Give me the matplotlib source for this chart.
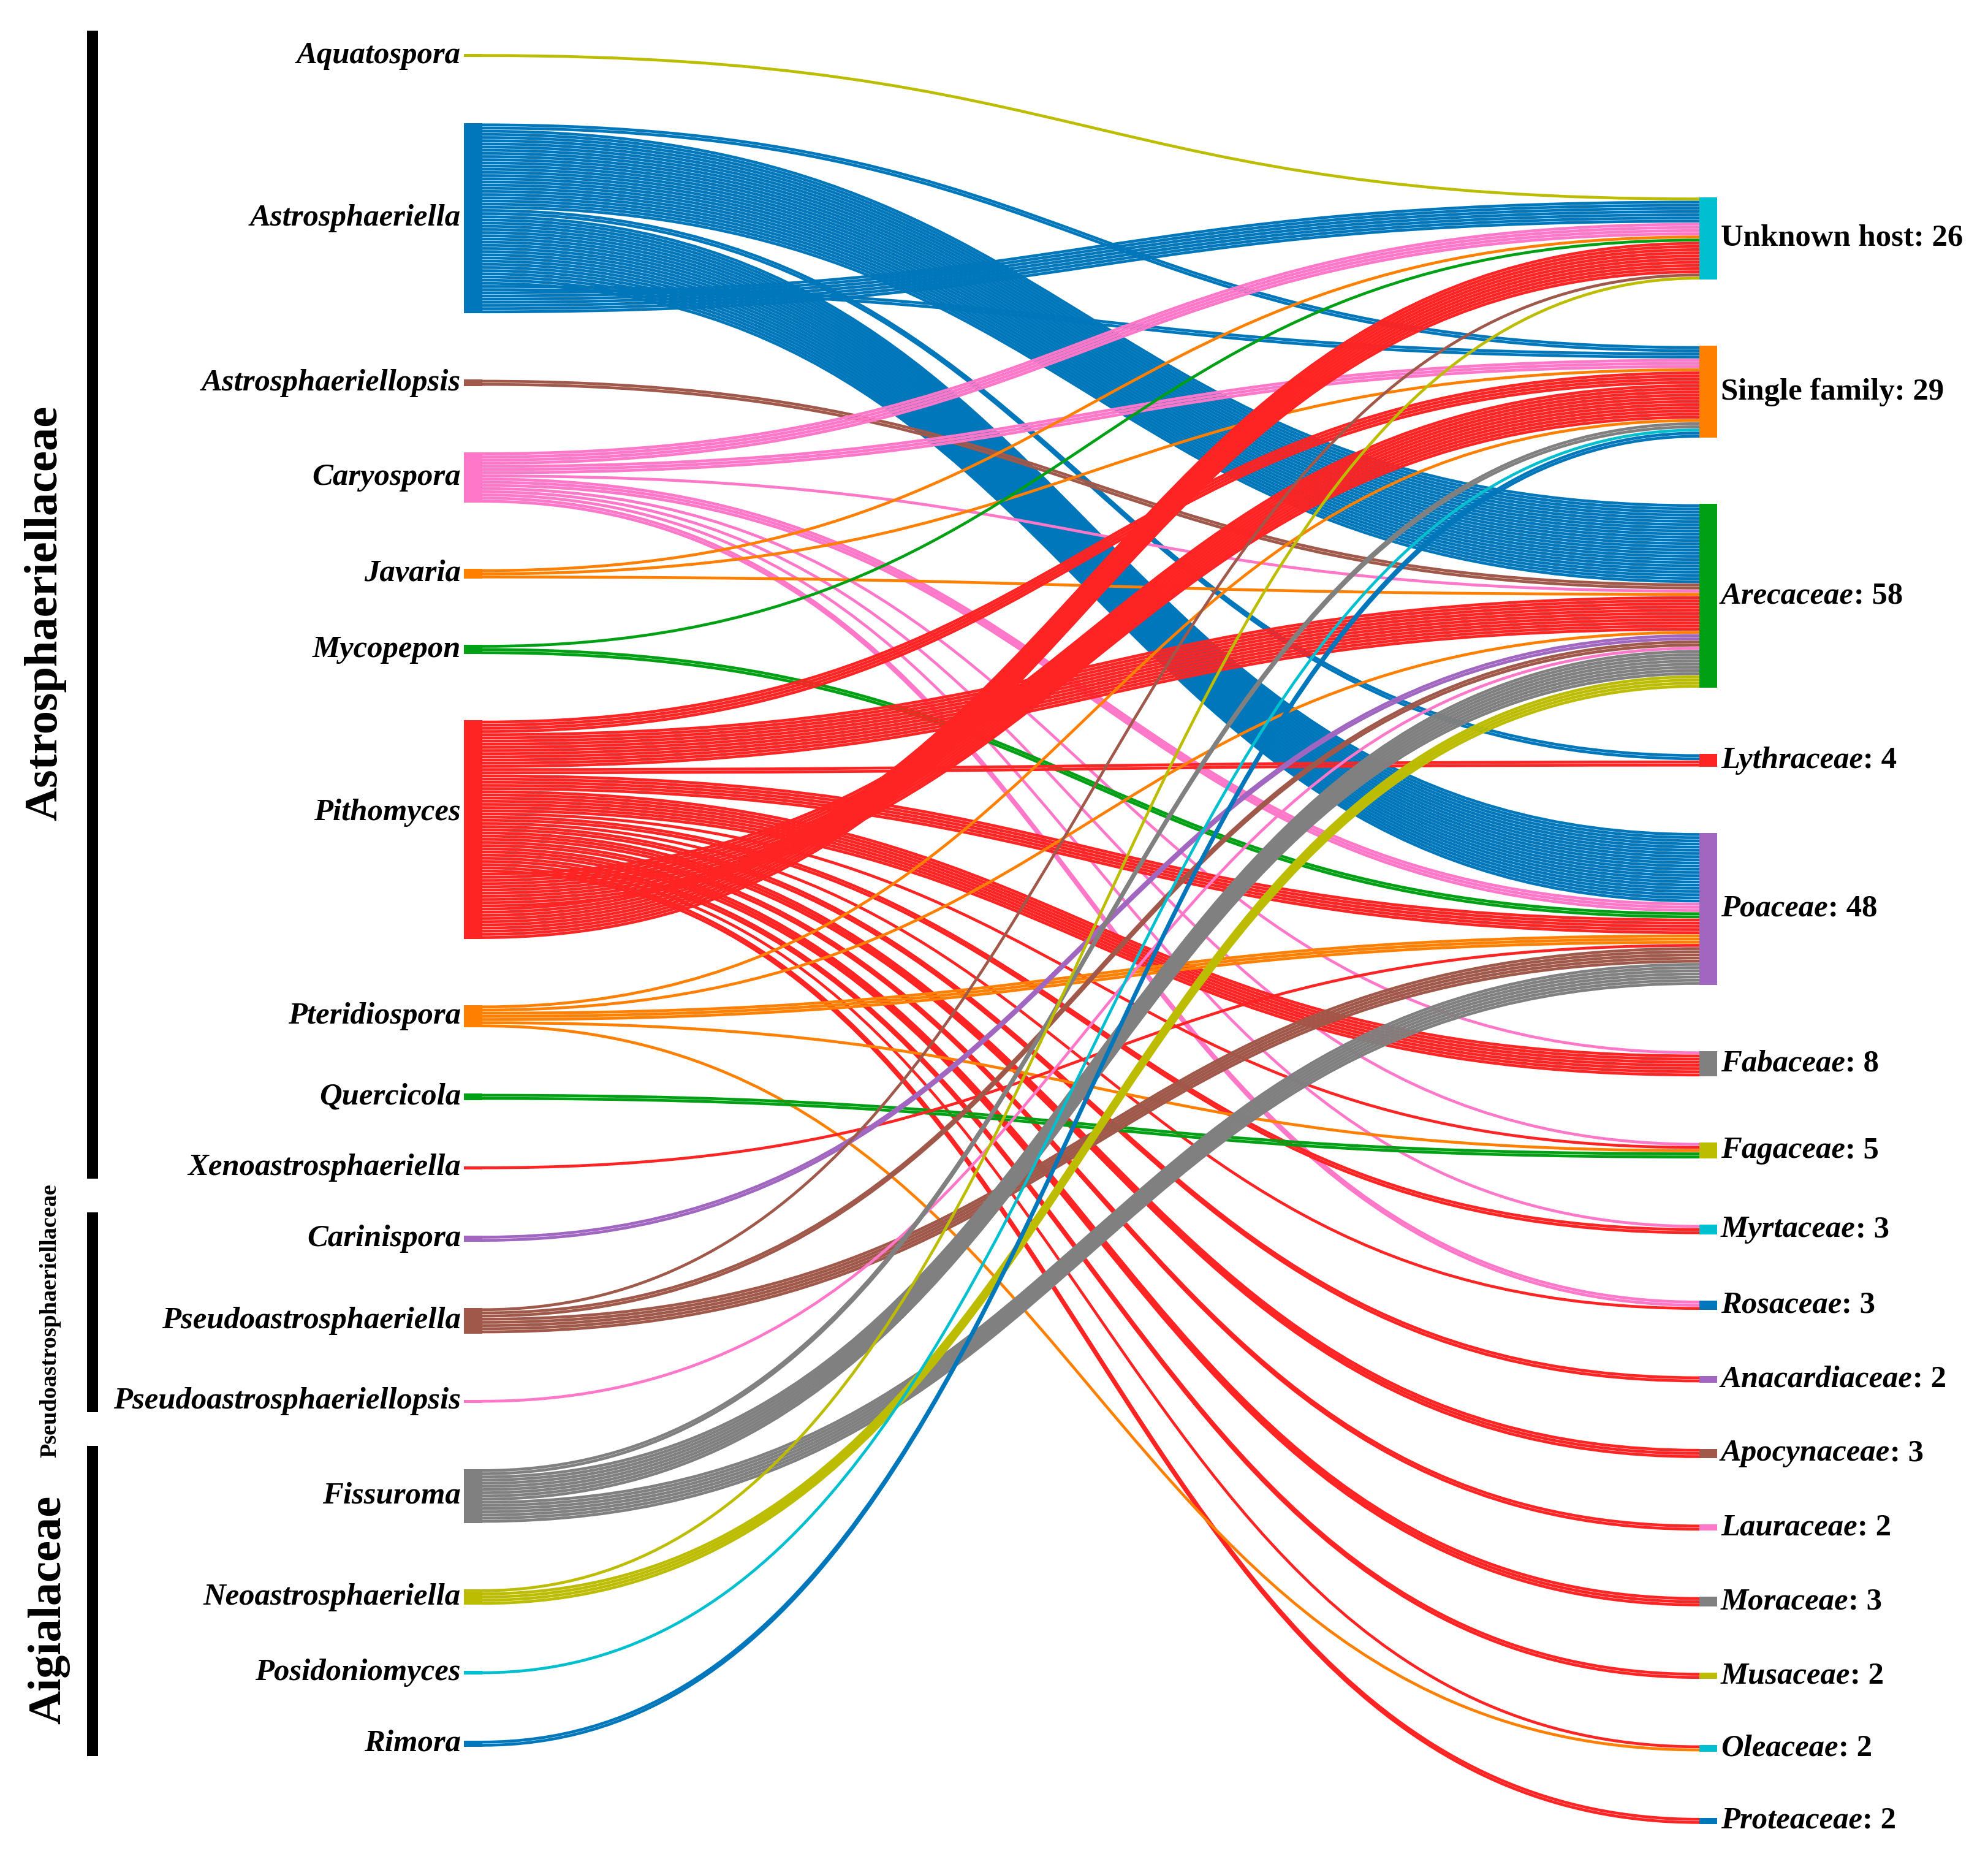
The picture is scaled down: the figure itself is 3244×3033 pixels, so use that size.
import numpy as np
import matplotlib
matplotlib.use('Agg')
import matplotlib.pyplot as plt
from matplotlib.path import Path
from matplotlib.patches import PathPatch, Rectangle

# d3 category10, a bit more saturated like the figure
BLUE = '#0077bb'
ORANGE = '#ff8000'
GREEN = '#00a014'
RED = '#ff2424'
PURPLE = '#a066c0'
BROWN = '#a0584a'
PINK = '#ff77c8'
GRAY = '#808080'
OLIVE = '#bcbd00'
CYAN = '#00c0d0'

# ---- data ----
genera = ['Aquatospora', 'Astrosphaeriella', 'Astrosphaeriellopsis', 'Caryospora',
          'Javaria', 'Mycopepon', 'Pithomyces', 'Pteridiospora', 'Quercicola',
          'Xenoastrosphaeriella', 'Carinispora', 'Pseudoastrosphaeriella',
          'Pseudoastrosphaeriellopsis', 'Fissuroma', 'Neoastrosphaeriella',
          'Posidoniomyces', 'Rimora']
genus_colors = [OLIVE, BLUE, BROWN, PINK, ORANGE, GREEN, RED, ORANGE, GREEN, RED,
                PURPLE, BROWN, PINK, GRAY, OLIVE, CYAN, BLUE]

families = ['Astrosphaeriellaceae', 'Pseudoastrosphaeriellaceae', 'Aigialaceae']
family_size = [10, 3, 4]          # number of genera in each family, in order
family_fontsize = [55, 27.5, 55]

hosts = ['Unknown host', 'Single family', 'Arecaceae', 'Lythraceae', 'Poaceae',
         'Fabaceae', 'Fagaceae', 'Myrtaceae', 'Rosaceae', 'Anacardiaceae',
         'Apocynaceae', 'Lauraceae', 'Moraceae', 'Musaceae', 'Oleaceae', 'Proteaceae']
host_colors = [CYAN, ORANGE, GREEN, RED, PURPLE, GRAY, OLIVE, CYAN, BLUE, PURPLE,
               BROWN, PINK, GRAY, OLIVE, CYAN, BLUE]

# records genus -> host, listed in the order they leave each genus
records = [
    ('Aquatospora', 'Unknown host', 1),
    ('Astrosphaeriella', 'Single family', 2),
    ('Astrosphaeriella', 'Arecaceae', 25),
    ('Astrosphaeriella', 'Lythraceae', 2),
    ('Astrosphaeriella', 'Poaceae', 22),
    ('Astrosphaeriella', 'Single family', 2),
    ('Astrosphaeriella', 'Unknown host', 7),
    ('Astrosphaeriellopsis', 'Arecaceae', 2),
    ('Caryospora', 'Unknown host', 4),
    ('Caryospora', 'Single family', 3),
    ('Caryospora', 'Arecaceae', 1),
    ('Caryospora', 'Poaceae', 3),
    ('Caryospora', 'Fabaceae', 1),
    ('Caryospora', 'Fagaceae', 1),
    ('Caryospora', 'Myrtaceae', 1),
    ('Caryospora', 'Rosaceae', 2),
    ('Javaria', 'Unknown host', 1),
    ('Javaria', 'Single family', 1),
    ('Javaria', 'Arecaceae', 1),
    ('Mycopepon', 'Unknown host', 1),
    ('Mycopepon', 'Poaceae', 2),
    ('Pithomyces', 'Single family', 4),
    ('Pithomyces', 'Arecaceae', 11),
    ('Pithomyces', 'Lythraceae', 2),
    ('Pithomyces', 'Poaceae', 5),
    ('Pithomyces', 'Fabaceae', 7),
    ('Pithomyces', 'Fagaceae', 1),
    ('Pithomyces', 'Myrtaceae', 2),
    ('Pithomyces', 'Rosaceae', 1),
    ('Pithomyces', 'Anacardiaceae', 2),
    ('Pithomyces', 'Apocynaceae', 3),
    ('Pithomyces', 'Lauraceae', 2),
    ('Pithomyces', 'Moraceae', 3),
    ('Pithomyces', 'Musaceae', 2),
    ('Pithomyces', 'Oleaceae', 1),
    ('Pithomyces', 'Proteaceae', 2),
    ('Pithomyces', 'Single family', 11),
    ('Pithomyces', 'Unknown host', 10),
    ('Pteridiospora', 'Single family', 1),
    ('Pteridiospora', 'Arecaceae', 1),
    ('Pteridiospora', 'Poaceae', 3),
    ('Pteridiospora', 'Fagaceae', 1),
    ('Pteridiospora', 'Oleaceae', 1),
    ('Quercicola', 'Fagaceae', 2),
    ('Xenoastrosphaeriella', 'Poaceae', 1),
    ('Carinispora', 'Arecaceae', 2),
    ('Pseudoastrosphaeriella', 'Unknown host', 1),
    ('Pseudoastrosphaeriella', 'Arecaceae', 2),
    ('Pseudoastrosphaeriella', 'Poaceae', 5),
    ('Pseudoastrosphaeriellopsis', 'Arecaceae', 1),
    ('Fissuroma', 'Single family', 2),
    ('Fissuroma', 'Arecaceae', 8),
    ('Fissuroma', 'Poaceae', 7),
    ('Neoastrosphaeriella', 'Unknown host', 1),
    ('Neoastrosphaeriella', 'Arecaceae', 4),
    ('Posidoniomyces', 'Single family', 1),
    ('Rimora', 'Single family', 2),
]

# ---- layout (pixel units of the output picture) ----
W, H, DPI = 3244, 3033, 100
K = 5.17          # px per record
GAP = 108         # px between nodes
LEFT_TOP, RIGHT_TOP = 88, 322
X_SRC, X_TGT = 787, 2773
NODE_W = 30
label_dy = {'Pithomyces': -28}   # label sits a bit above its node centre

flow = np.zeros((len(genera), len(hosts)), dtype=int)
for g, h, n in records:
    flow[genera.index(g), hosts.index(h)] += n
src_tot = flow.sum(axis=1)
tgt_tot = flow.sum(axis=0)

def stack(counts, top):
    tops = []
    y = top
    for c in counts:
        tops.append(y)
        y += c * K + GAP
    return np.array(tops)

src_top = stack(src_tot, LEFT_TOP)
tgt_top = stack(tgt_tot, RIGHT_TOP)

# stacking: at the genus in the records order, at the host ordered by genus
segs = []
src_acc = np.zeros(len(genera))
for g, h, n in records:
    i, j = genera.index(g), hosts.index(h)
    segs.append([i, j, n, src_top[i] + src_acc[i] * K, 0.0])
    src_acc[i] += n
tgt_acc = np.zeros(len(hosts))
for s in sorted(segs, key=lambda s: (s[0], s[3])):
    s[4] = tgt_top[s[1]] + tgt_acc[s[1]] * K
    tgt_acc[s[1]] += s[2]

fig = plt.figure(figsize=(W / DPI, H / DPI), dpi=DPI)
ax = fig.add_axes([0, 0, 1, 1])
ax.set_xlim(0, W)
ax.set_ylim(H, 0)
ax.axis('off')

lw = K * 72 / DPI * 0.9
xm = (X_SRC + X_TGT) / 2
for i, j, n, ys, yt in segs:
    for r in range(n):
        y0 = ys + (r + 0.5) * K
        y1 = yt + (r + 0.5) * K
        p = Path([(X_SRC, y0), (xm, y0), (xm, y1), (X_TGT, y1)],
                 [Path.MOVETO, Path.CURVE4, Path.CURVE4, Path.CURVE4])
        ax.add_patch(PathPatch(p, fill=False, edgecolor=genus_colors[i], lw=lw,
                               capstyle='butt'))

serif = 'Liberation Serif'
FS = 36.5
for i, g in enumerate(genera):
    ax.add_patch(Rectangle((X_SRC - NODE_W, src_top[i]), NODE_W, src_tot[i] * K,
                           color=genus_colors[i], lw=0))
    ax.text(X_SRC - NODE_W - 5, src_top[i] + src_tot[i] * K / 2 + label_dy.get(g, 0),
            g, ha='right', va='center', family=serif, style='italic', weight='bold',
            size=FS)

for j, h in enumerate(hosts):
    ax.add_patch(Rectangle((X_TGT, tgt_top[j]), NODE_W - 1, tgt_tot[j] * K,
                           color=host_colors[j], lw=0))
    yc = tgt_top[j] + tgt_tot[j] * K / 2
    if h.endswith('aceae'):
        t1 = ax.text(X_TGT + 35, yc, h, ha='left', va='center', family=serif,
                     style='italic', weight='bold', size=FS)
        ax.annotate(': %d' % tgt_tot[j], xy=(1, 0), xycoords=t1, ha='left',
                    va='bottom', family=serif, weight='bold', size=FS)
    else:
        ax.text(X_TGT + 35, yc, '%s: %d' % (h, tgt_tot[j]), ha='left', va='center',
                family=serif, weight='bold', size=FS)

# family bars and labels
start = 0
label_x = [74, 82, 80]
for f, n, fs, lx in zip(families, family_size, family_fontsize, label_x):
    first, last = start, start + n - 1
    y_top = src_top[first] - 38
    y_bot = src_top[last] + src_tot[last] * K + 15
    ax.add_patch(Rectangle((142, y_top), 18, y_bot - y_top, color='black', lw=0))
    ax.text(lx, (y_top + y_bot) / 2 + 14, f, rotation=90, ha='center', va='center',
            family=serif, weight='bold', size=fs)
    start += n

fig.savefig('out.png', dpi=DPI, facecolor='white')
